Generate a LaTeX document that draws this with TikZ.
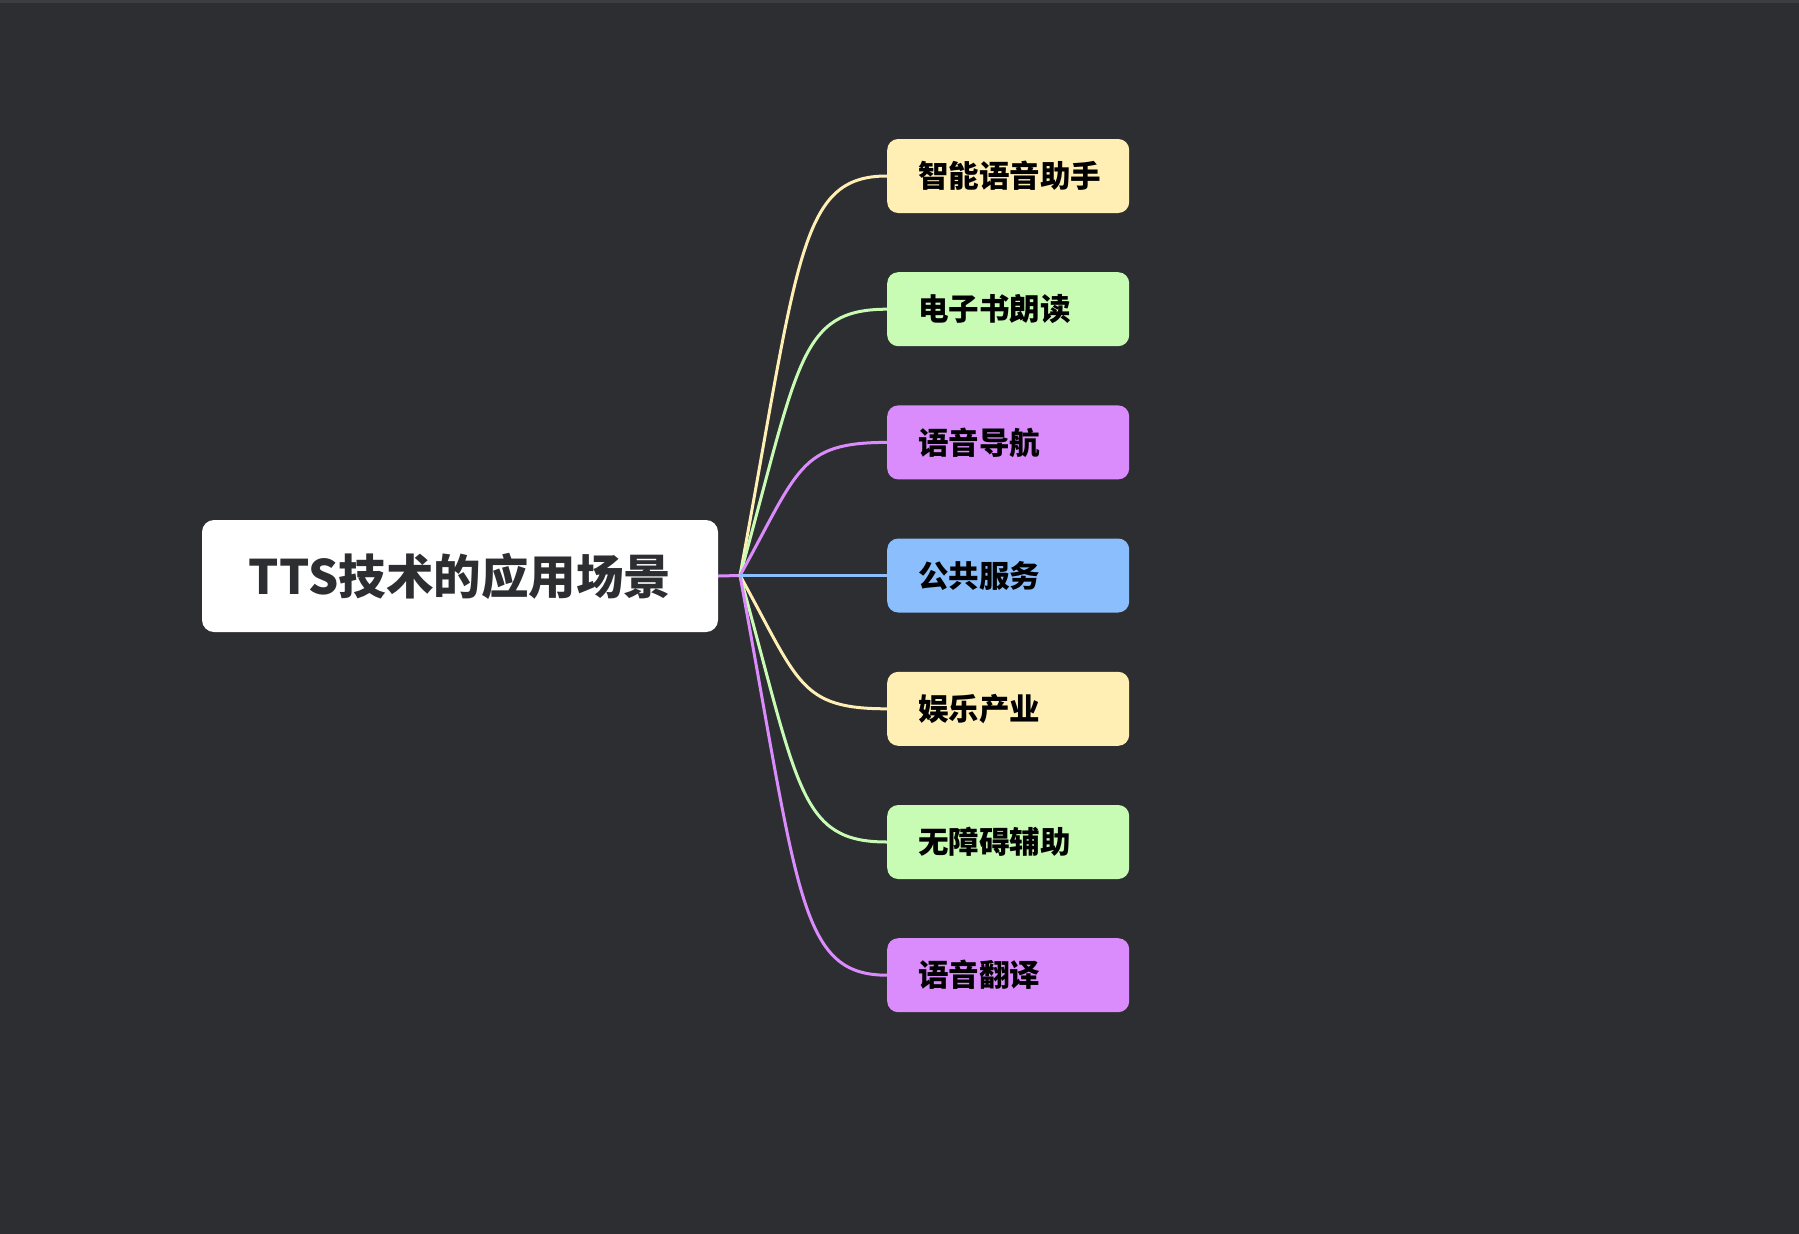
\documentclass[tikz,border=0pt]{standalone}
\usepackage{fontspec}
\newfontfamily\cjk{Noto Sans CJK SC}
\usetikzlibrary{calc}
\definecolor{bg}{HTML}{2D2E32}
\definecolor{topline}{HTML}{3C3D41}
\definecolor{cyellow}{HTML}{FFEFB5}
\definecolor{cgreen}{HTML}{C8FCB4}
\definecolor{cpurple}{HTML}{DA8CFC}
\definecolor{cblue}{HTML}{8ABEFC}
\definecolor{roottext}{HTML}{2D2E32}
\tikzset{
  rootbox/.style={fill=white, rounded corners=12pt, minimum width=516pt, minimum height=112pt,
    inner sep=0pt, font=\cjk\bfseries\fontsize{47.5}{52}\selectfont, text=roottext},
  childbox/.style={fill=#1, rounded corners=11pt, anchor=west, text width=180pt, align=left,
    inner xsep=31pt, inner ysep=0pt, minimum height=74pt, font=\cjk\bfseries\fontsize{30.5}{34}\selectfont, text=black},
  branch/.style={draw=#1, line width=3pt},
}
\begin{document}
\begin{tikzpicture}[x=1pt,y=-1pt]
\fill[bg] (0,0) rectangle (1799,1234);
\useasboundingbox (0,0) rectangle (1799,1234);
\fill[topline] (0,0) rectangle (1799,2.5);
\node[rootbox] (root) at (460,576) {\raisebox{-2.5pt}{TTS技术的应用场景}};
\coordinate (J) at (740,575.5);
\node[childbox=cyellow] (c1) at (887,176) {\raisebox{-1.5pt}{智能语音助手}};
\node[childbox=cgreen] (c2) at (887,309.2) {\raisebox{-1.5pt}{电子书朗读}};
\node[childbox=cpurple] (c3) at (887,442.4) {\raisebox{-1.5pt}{语音导航}};
\node[childbox=cblue] (c4) at (887,575.5) {\raisebox{-1.5pt}{公共服务}};
\node[childbox=cyellow] (c5) at (887,708.8) {\raisebox{-1.5pt}{娱乐产业}};
\node[childbox=cgreen] (c6) at (887,842) {\raisebox{-1.5pt}{无障碍辅助}};
\node[childbox=cpurple] (c7) at (887,975.2) {\raisebox{-1.5pt}{语音翻译}};
\draw[branch=cpurple] (root.east) -- (J);
\foreach \c/\col in {c1/cyellow,c2/cgreen,c3/cpurple,c5/cyellow,c6/cgreen,c7/cpurple}{
  \draw[branch=\col] let \p1=(J), \p2=(\c.west) in
    (J) .. controls (\x1+59pt,{\y1+0.8*(\y2-\y1)}) and (\x1+59pt,\y2) .. (\c.west);
}
\draw[branch=cblue] (J) -- (c4.west);
\end{tikzpicture}
\end{document}
